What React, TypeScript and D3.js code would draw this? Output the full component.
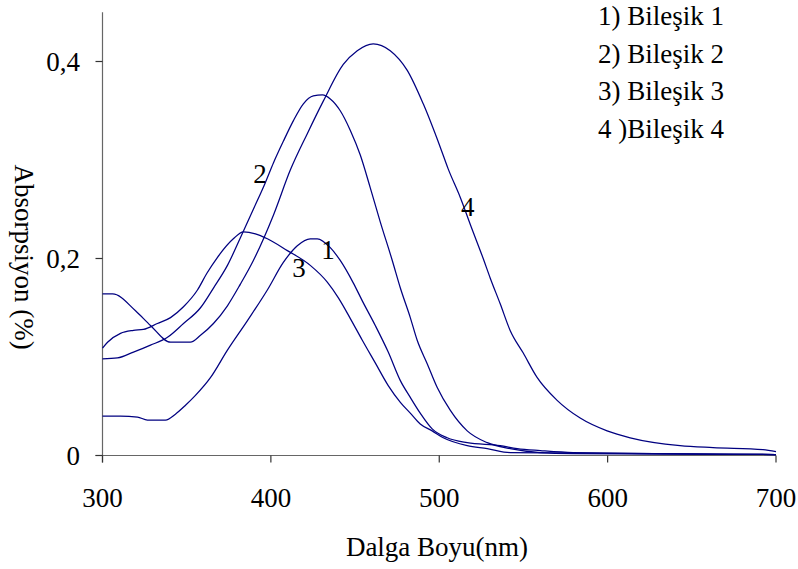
import React from "react";
import * as d3 from "d3";

const xTicks = [300, 400, 500, 600, 700];
const yTicks = [0, 0.2, 0.4];
const yTickLabels = ["0", "0,2", "0,4"];
const legendLabels = ["1) Bileşik 1", "2) Bileşik 2", "3) Bileşik 3", "4 )Bileşik 4"];
const curveLabels = ["1", "2", "3", "4"];

const wl1 = [300, 310.7, 320.8, 326.7, 337.4, 343.3, 349.3, 355.2, 364.1, 374.2, 386.1, 397.9, 407.4, 415.7, 423.4, 427.6, 435.3, 441.2, 449, 454.3, 462, 469.7, 476.9, 482.8, 488.7, 495.8, 504.7, 516.6, 536.2, 546.3, 560, 579.5, 700];
const abs1 = [0.040, 0.040, 0.039, 0.036, 0.036, 0.042, 0.051, 0.061, 0.079, 0.107, 0.137, 0.168, 0.196, 0.213, 0.220, 0.220, 0.211, 0.198, 0.175, 0.157, 0.132, 0.105, 0.076, 0.059, 0.043, 0.027, 0.018, 0.013, 0.010, 0.007, 0.005, 0.003, 0.001];

const wl2 = [300, 308.9, 318.4, 328.5, 338.6, 348.1, 358.2, 365.9, 374.2, 381.9, 389.6, 396.7, 401.5, 407.4, 413.4, 419.3, 425.2, 430.6, 435.3, 441.2, 447.2, 453.1, 459, 465, 472.1, 476.9, 482.8, 486.9, 492.9, 498.8, 506.5, 516.6, 528.5, 542.1, 559.9, 579.5, 700];
const abs2 = [0.098, 0.099, 0.105, 0.112, 0.120, 0.134, 0.150, 0.170, 0.193, 0.221, 0.250, 0.277, 0.297, 0.319, 0.340, 0.357, 0.365, 0.366, 0.362, 0.350, 0.330, 0.305, 0.272, 0.237, 0.198, 0.170, 0.140, 0.117, 0.093, 0.069, 0.046, 0.025, 0.013, 0.007, 0.003, 0.002, 0.001];

const wl3 = [300, 303, 310.7, 318.4, 324.3, 332.6, 340.4, 348.1, 356.4, 362, 368.2, 377.7, 383.7, 390.8, 397.9, 409.8, 423.4, 433.5, 440.1, 447.2, 454.3, 462, 469.7, 476.9, 482.8, 488.7, 495.8, 502.4, 516.6, 528.5, 542.1, 700];
const abs3 = [0.109, 0.115, 0.124, 0.127, 0.128, 0.134, 0.140, 0.151, 0.168, 0.185, 0.201, 0.220, 0.227, 0.225, 0.220, 0.208, 0.193, 0.176, 0.160, 0.139, 0.117, 0.094, 0.071, 0.054, 0.043, 0.032, 0.025, 0.018, 0.010, 0.007, 0.003, 0.001];

const wl4 = [300, 306, 319.6, 328.5, 340.4, 352.2, 358.2, 365.9, 374.2, 381.9, 389.6, 401.5, 411.6, 421.7, 431.2, 443, 451.3, 460.8, 470.9, 481, 490.5, 500.6, 505.3, 512.5, 519, 526.1, 530.3, 536.2, 542.1, 549.9, 558.2, 570, 583.7, 599.7, 613.4, 643, 662.6, 692.3, 700];
const abs4 = [0.164, 0.164, 0.147, 0.132, 0.115, 0.115, 0.122, 0.134, 0.152, 0.174, 0.198, 0.244, 0.290, 0.327, 0.360, 0.397, 0.411, 0.418, 0.411, 0.391, 0.357, 0.313, 0.291, 0.262, 0.232, 0.200, 0.180, 0.154, 0.127, 0.104, 0.079, 0.056, 0.038, 0.025, 0.018, 0.010, 0.008, 0.006, 0.004];

const seriesWl = [wl1, wl2, wl3, wl4];
const seriesAbs = [abs1, abs2, abs3, abs4];
const labelAt = [[434, 0.1995], [393.5, 0.277], [416.7, 0.181], [517, 0.243]];

export default function App() {
  const W = 798, H = 569;
  const x = d3.scaleLinear().domain([300, 700]).range([102.5, 776]);
  const y = d3.scaleLinear().domain([0, 0.45]).range([455.5, 12.25]);
  const line = d3.line<[number, number]>()
    .x((d) => x(d[0]))
    .y((d) => y(d[1]))
    .curve(d3.curveMonotoneX);
  const tStyle = { fontFamily: '"Liberation Serif"', fontSize: "27px" } as React.CSSProperties;
  const axisColor = "#666";
  return (
    <svg width={W} height={H} style={{ position: "absolute", left: 0, top: 0, background: "#fff" }}>
      <line x1={x(300)} x2={x(300)} y1={y(0.45)} y2={y(0) + 7} stroke={axisColor} strokeWidth={1.2} />
      <line x1={x(300) - 7} x2={x(700)} y1={y(0)} y2={y(0)} stroke={axisColor} strokeWidth={1.2} />
      {yTicks.map((t, i) => (
        <g key={"yt" + i}>
          <line x1={x(300) - 7} x2={x(300)} y1={y(t)} y2={y(t)} stroke="#333" strokeWidth={1.2} />
          <text x={80} y={y(t) + 9} textAnchor="end" style={tStyle} fill="#000">{yTickLabels[i]}</text>
        </g>
      ))}
      {xTicks.map((t, i) => (
        <g key={"xt" + i}>
          <line x1={x(t)} x2={x(t)} y1={y(0)} y2={y(0) + 7} stroke="#333" strokeWidth={1.2} />
          <text x={x(t)} y={507} textAnchor="middle" style={tStyle} fill="#000">{t}</text>
        </g>
      ))}
      <text x={437} y={556} textAnchor="middle" style={tStyle} fill="#000">Dalga Boyu(nm)</text>
      <text transform="translate(15,257) rotate(90)" textAnchor="middle" style={tStyle} fill="#000">Absorpsiyon (%)</text>
      {seriesWl.map((wl, i) => (
        <path key={"c" + i}
          d={line(wl.map((w, j) => [w, seriesAbs[i][j]] as [number, number])) || ""}
          fill="none" stroke="#000080" strokeWidth={1.25} />
      ))}
      {curveLabels.map((c, i) => (
        <text key={"cl" + i} x={x(labelAt[i][0])} y={y(labelAt[i][1])} textAnchor="middle" style={tStyle} fill="#000">{c}</text>
      ))}
      {legendLabels.map((l, i) => (
        <text key={"lg" + i} x={598} y={25 + i * 37.5} style={tStyle} fill="#000">{l}</text>
      ))}
    </svg>
  );
}
